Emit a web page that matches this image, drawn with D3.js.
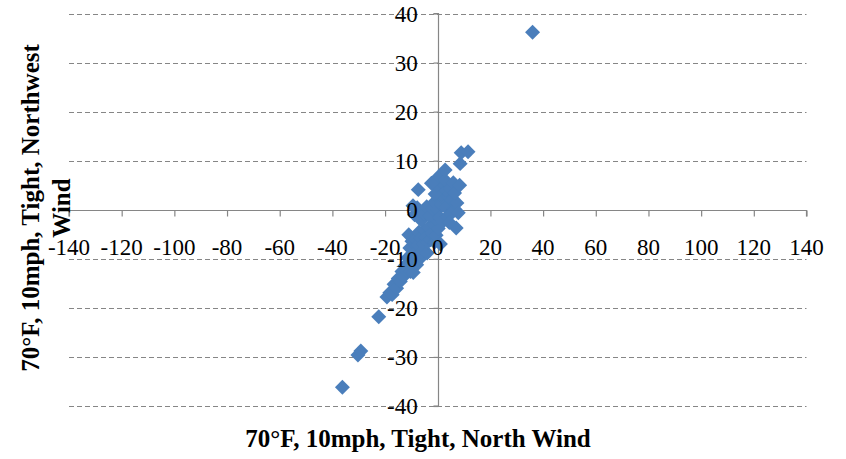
<!DOCTYPE html>
<html>
<head>
<meta charset="utf-8">
<script src="https://cdn.jsdelivr.net/npm/d3@7"></script>
<style>
  html, body { margin: 0; padding: 0; background: #fff; }
  svg { display: block; }
</style>
</head>
<body>
<svg id="chart" width="846" height="459"></svg>
<script>
// Paired readings: North Wind (x) vs Northwest Wind (y), 70°F, 10mph, Tight
const northWind = [
  36.0, -36.2, -30.3, -29.2, -22.4,
  -19.3, -18.2, -17.3, -16.6, -15.6, -15.0, -14.2, -13.6, -13.0, -12.4, -11.8,
  -10.4, -11.4, -10.6, -9.8, -9.3, -9.0, -10.6, -8.6, -8.0, -11.0, -9.8, -8.4,
  -7.6, -7.4, -6.8, -7.2, -6.4, -6.0, -5.4, -4.0, -5.0, -4.6, -3.8, -2.8, -3.4,
  -2.2, -1.2, -0.6, 1.0, -1.6, 0.2, -0.8,
  -8.8, -7.8, -9.4, -6.2, -5.2, -4.2, -3.0, -2.0, -1.2, 0.0, 0.8, 1.4, 2.0, 2.4,
  1.6, 3.2, 3.6, 4.2, 3.0, 0.4, -1.0, -0.3, 1.2, 0.2, -2.4, 2.8, 4.8, 5.9, 5.4,
  6.2, 5.0, 7.3, 7.8, 6.4, 7.0, 4.4, 8.3, -7.4,
  2.8, 8.5, 8.9, 11.5
];
const northwestWind = [
  36.2, -36.2, -29.6, -28.8, -21.8,
  -17.8, -16.9, -17.3, -15.2, -16.0, -14.0, -14.6, -12.6, -13.6, -11.4, -12.4,
  -12.6, -9.8, -10.8, -9.0, -12.8, -10.4, -7.8, -8.0, -11.2, -5.1, -6.4, -6.0,
  -9.2, -7.2, -10.0, -4.6, -5.8, -8.6, -7.0, -8.8, -4.2, -5.6, -6.6, -6.1, -3.6,
  -4.8, -6.6, -5.2, -7.0, -3.0, -3.8, -1.8,
  -1.0, 0.4, 0.8, -2.2, -0.8, 0.6, -1.2, 0.2, 1.6, 0.0, -1.6, 1.0, -2.4, 2.2,
  3.2, 0.4, -1.4, 2.6, 4.0, 4.2, 3.2, 5.1, 5.8, 6.7, 5.4, 6.0, 4.4, 5.5, 2.0,
  0.2, -0.8, 1.4, -0.6, 3.4, -3.7, -2.6, 5.0, 4.1,
  8.1, 9.4, 11.6, 11.8
];
const xTicks = [-140, -120, -100, -80, -60, -40, -20, 0, 20, 40, 60, 80, 100, 120, 140];
const yTicks = [-40, -30, -20, -10, 0, 10, 20, 30, 40];
const xTitle = "70°F, 10mph, Tight, North Wind";
const yTitleLines = ["70°F, 10mph, Tight, Northwest", "Wind"];

const svg = d3.select("#chart");
const serif = "'Liberation Serif', 'Times New Roman', serif";
const axisColor = "#868686";
const markerColor = "#4A7EBB";

const x = d3.scaleLinear().domain([-140, 140]).range([69, 806.5]);
const y = d3.scaleLinear().domain([-40, 40]).range([406, 13.5]);

// Dashed horizontal gridlines (the zero line is the solid x axis)
svg.append("g")
  .selectAll("line")
  .data(yTicks.filter(v => v !== 0))
  .join("line")
  .attr("x1", x(-140)).attr("x2", x(140))
  .attr("y1", d => Math.round(y(d)) + 0.5).attr("y2", d => Math.round(y(d)) + 0.5)
  .attr("stroke", axisColor).attr("stroke-width", 1)
  .attr("stroke-dasharray", "5,3");

// Axes crossing at the origin
const xAxis = d3.axisBottom(x).tickValues(xTicks).tickSize(6).tickFormat("");
const yAxis = d3.axisLeft(y).tickValues(yTicks).tickSize(5).tickFormat("");

const gx = svg.append("g")
  .attr("transform", `translate(0,${Math.round(y(0)) + 0.5})`)
  .call(xAxis);
const gy = svg.append("g")
  .attr("transform", `translate(${Math.round(x(0)) + 0.5},0)`)
  .call(yAxis);
[gx, gy].forEach(g => {
  g.select(".domain").attr("stroke", axisColor).attr("stroke-width", 1.2);
  g.selectAll(".tick line").attr("stroke", axisColor).attr("stroke-width", 1.2);
});
gx.select(".domain").attr("d", `M${x(-140)},6V0H${x(140)}V6`);
gy.select(".domain").attr("d", `M-5,${y(40)}H0V${y(-40)}H-5`);

// Diamond markers
const points = northWind.map((v, i) => ({ x: v, y: northwestWind[i] }));
const diamond = d3.symbol().type(d3.symbolSquare).size(112);
svg.append("g")
  .selectAll("path")
  .data(points)
  .join("path")
  .attr("d", diamond)
  .attr("transform", d => `translate(${x(d.x)},${y(d.y)}) rotate(45)`)
  .attr("fill", markerColor);

// Tick labels drawn above the markers
svg.append("g")
  .selectAll("text")
  .data(xTicks)
  .join("text")
  .attr("x", d => x(d))
  .attr("y", 255)
  .attr("text-anchor", "middle")
  .attr("font-family", serif)
  .attr("font-size", 23)
  .attr("fill", "#000")
  .text(d => d);

svg.append("g")
  .selectAll("text")
  .data(yTicks)
  .join("text")
  .attr("x", x(0) - 20)
  .attr("y", d => y(d) + 8)
  .attr("text-anchor", "end")
  .attr("font-family", serif)
  .attr("font-size", 23)
  .attr("fill", "#000")
  .text(d => d);

// Axis titles
svg.append("text")
  .attr("x", 418)
  .attr("y", 447)
  .attr("text-anchor", "middle")
  .attr("font-family", serif)
  .attr("font-weight", "bold")
  .attr("font-size", 25)
  .attr("fill", "#000")
  .text(xTitle);

const yt = svg.append("text")
  .attr("transform", "translate(39,208) rotate(-90)")
  .attr("text-anchor", "middle")
  .attr("font-family", serif)
  .attr("font-weight", "bold")
  .attr("font-size", 25)
  .attr("fill", "#000");
yTitleLines.forEach((line, i) => {
  yt.append("tspan").attr("x", 0).attr("y", i * 31).text(line);
});
</script>
</body>
</html>
